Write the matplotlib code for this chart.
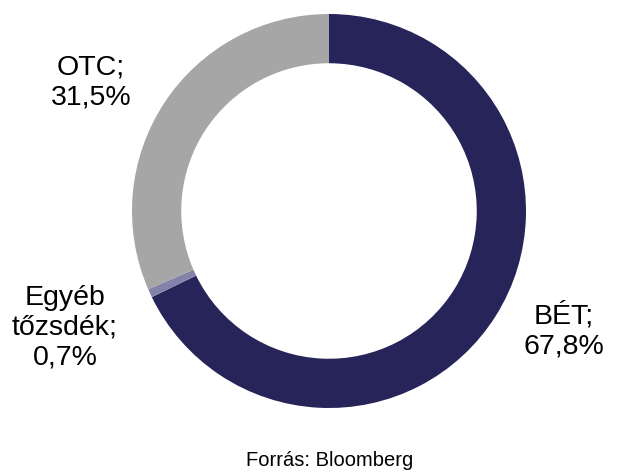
import matplotlib.pyplot as plt

# share of trading venues
labels = ['BÉT;\n67,8%', 'Egyéb\ntőzsdék;\n0,7%', 'OTC;\n31,5%']
shares = [67.8, 0.7, 31.5]
colors = ['#262458', '#8282aa', '#a6a6a6']

W, H = 618, 472
fig = plt.figure(figsize=(W / 100, H / 100), dpi=100)
plt.rcParams['font.family'] = ['Liberation Sans', 'DejaVu Sans']

# donut centre and radius in pixels
cx, cy, r = 329, 261, 197
ax = fig.add_axes([(cx - r) / W, (cy - r) / H, 2 * r / W, 2 * r / H])
ax.pie(shares, colors=colors, startangle=90, counterclock=False, radius=1,
       wedgeprops=dict(width=0.25, linewidth=0))
ax.set_xlim(-1, 1)
ax.set_ylim(-1, 1)
ax.set_aspect('equal')
ax.axis('off')

# label positions (pixels, from top-left)
pos = [(564, 331), (65, 328), (91, 83)]
for lab, (x, y) in zip(labels, pos):
    fig.text(x / W, 1 - y / H, lab, ha='center', va='center', fontsize=20.5,
             linespacing=1.2, color='black')

fig.text(330 / W, 1 - 461 / H, 'Forrás: Bloomberg', ha='center', va='center',
         fontsize=14.5, color='black')

fig.savefig('out.png', dpi=100)
